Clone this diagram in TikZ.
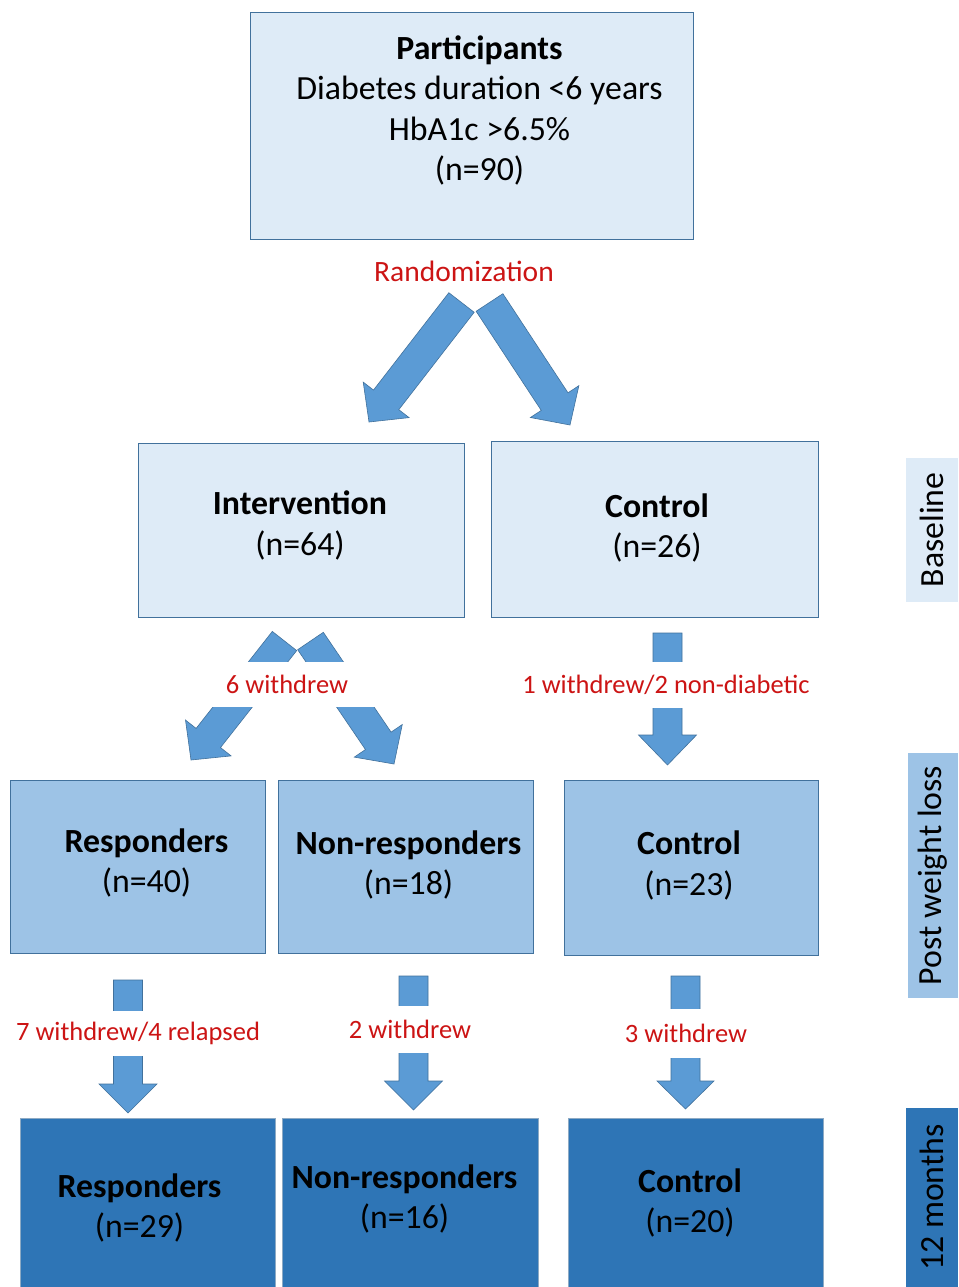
\documentclass[tikz,border=0pt]{standalone}
\usepackage{fontspec}
\setmainfont{Carlito}
\usetikzlibrary{calc}
\definecolor{lightbox}{RGB}{222,235,247}
\definecolor{midbox}{RGB}{157,195,230}
\definecolor{darkbox}{RGB}{46,117,182}
\definecolor{arrowfill}{RGB}{91,155,213}
\definecolor{bordc}{RGB}{65,113,156}
\definecolor{redtxt}{RGB}{204,20,20}
\newcommand{\blockarr}[5]{%
  \path ($(#2)!#5!(#1)$) coordinate (hb);
  \draw[arrowstyle] ($(#1)!#3!90:(#2)$) -- ($(hb)!#3!90:(#2)$) -- ($(hb)!#4!90:(#2)$) -- (#2)
    -- ($(hb)!#4!-90:(#2)$) -- ($(hb)!#3!-90:(#2)$) -- ($(#1)!#3!-90:(#2)$) -- cycle;
}
\tikzset{
  arrowstyle/.style={fill=arrowfill, draw=bordc, line width=0.6pt, line join=miter},
  boxbase/.style={draw=bordc, line width=0.8pt, rectangle, inner sep=0pt},
  lbox/.style={boxbase, fill=lightbox},
  mbox/.style={boxbase, fill=midbox},
  dbox/.style={boxbase, fill=darkbox, draw=bordc!60!white},
  btxt/.style={align=center, font=\fontsize{33.8}{40.5}\selectfont, inner sep=0pt},
  rtxt/.style={text=redtxt, font=\fontsize{26.5}{32}\selectfont, fill=white, inner xsep=4pt, inner ysep=0pt},
  side/.style={rotate=90, inner sep=0pt, font=\fontsize{33.8}{40}\selectfont},
}
\begin{document}
\begin{tikzpicture}[x=1pt, y=-1pt]
\useasboundingbox (0,0) rectangle (958,1287);
\fill[white] (0,0) rectangle (958,1287);

% boxes
\node[lbox, minimum width=443pt, minimum height=227pt] (part) at (471.5,125.5) {};
\node[btxt] (partT) at (479.5,110.5) {\textbf{Participants}\\Diabetes duration <6 years\\HbA1c >6.5\%\\(n=90)};

\node[lbox, minimum width=326pt, minimum height=174pt] (int) at (301,530) {};
\node[btxt] (intT) at (300,525.5) {\textbf{Intervention}\\(n=64)};
\node[lbox, minimum width=327pt, minimum height=176pt] (con) at (654.5,529) {};
\node[btxt] (conT) at (657,528) {\textbf{Control}\\(n=26)};

\node[mbox, minimum width=255pt, minimum height=173pt] (resp) at (137.5,866.5) {};
\node[btxt] (respT) at (146.5,863) {\textbf{Responders}\\(n=40)};
\node[mbox, minimum width=255pt, minimum height=173pt] (nres) at (405.5,866.5) {};
\node[btxt] (nresT) at (408.5,865) {\textbf{Non-responders}\\(n=18)};
\node[mbox, minimum width=254pt, minimum height=175pt] (con2) at (691,867.5) {};
\node[btxt] (con2T) at (689,865.5) {\textbf{Control}\\(n=23)};

\node[dbox, minimum width=255pt, minimum height=182pt] (resp3) at (147.5,1209) {};
\node[btxt] (resp3T) at (139.5,1208) {\textbf{Responders}\\(n=29)};
\node[dbox, minimum width=256pt, minimum height=182pt] (nres3) at (410,1209) {};
\node[btxt] (nres3T) at (404.5,1199) {\textbf{Non-responders}\\(n=16)};
\node[dbox, minimum width=255pt, minimum height=182pt] (con3) at (695.5,1209) {};
\node[btxt] (con3T) at (690,1203) {\textbf{Control}\\(n=20)};

% side labels
\node[side, fill=lightbox, minimum width=144pt, minimum height=52pt] (s1) at (932,530) {Baseline};
\node[side, fill=midbox, minimum width=245pt, minimum height=50pt] (s2) at (933,875.5) {Post weight loss};
\node[side, fill=darkbox, minimum width=179pt, minimum height=52pt] (s3) at (932,1197.5) {12 months};

% arrow end coordinates
\coordinate (ra1) at (461.5,302.5); \coordinate (ra2) at (369,422);
\coordinate (rb1) at (489.5,302.5); \coordinate (rb2) at (570,425);
\coordinate (wa1) at (284.5,641);  \coordinate (wa2) at (191,760);
\coordinate (wb1) at (310.5,641);  \coordinate (wb2) at (394,764);
\coordinate (c1a) at (667.5,633);  \coordinate (c1b) at (667.5,765);
\coordinate (r2a) at (128,980);    \coordinate (r2b) at (128,1113);
\coordinate (n2a) at (413.5,976);  \coordinate (n2b) at (413.5,1110);
\coordinate (c2a) at (685.5,976);  \coordinate (c2b) at (685.5,1109);

\blockarr{ra1}{ra2}{16pt}{29pt}{28pt}
\blockarr{rb1}{rb2}{16pt}{29pt}{28pt}
\blockarr{wa1}{wa2}{15.5pt}{29pt}{28pt}
\blockarr{wb1}{wb2}{15.5pt}{29pt}{28pt}
\blockarr{c1a}{c1b}{14.5pt}{29pt}{30pt}
\blockarr{r2a}{r2b}{14.5pt}{29pt}{29pt}
\blockarr{n2a}{n2b}{14.5pt}{29pt}{29pt}
\blockarr{c2a}{c2b}{14.5pt}{28.5pt}{28pt}

% labels
\node[rtxt, fill=none, font=\fontsize{29.5}{34}\selectfont] (rand) at (464,271) {Randomization};
\node[rtxt, minimum width=192pt, minimum height=45pt] (w6) at (287,684.5) {6 withdrew};
\node[rtxt, minimum height=46pt] (w1) at (666,685) {1 withdrew/2 non-diabetic};
\node[rtxt, minimum height=45pt] (w7) at (138,1033.5) {7 withdrew/4 relapsed};
\node[rtxt, minimum height=47pt] (w2) at (410,1029.5) {2 withdrew};
\node[rtxt, minimum height=49pt] (w3) at (686,1033.5) {3 withdrew};
\end{tikzpicture}
\end{document}
